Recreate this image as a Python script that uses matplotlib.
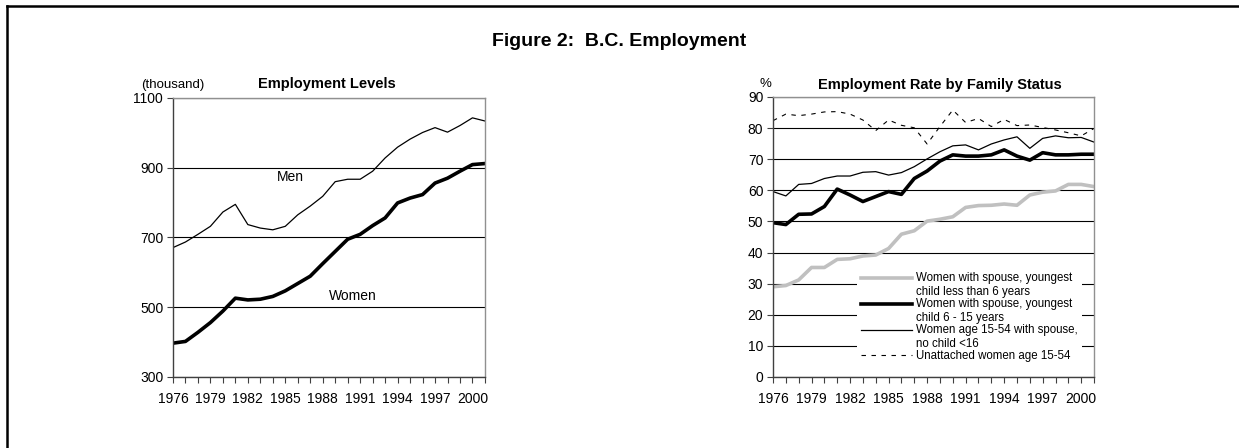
import numpy as np
from matplotlib import pyplot as plt
from matplotlib.lines import Line2D
from matplotlib.legend_handler import HandlerLine2D

plt.rcParams['font.family'] = ['Liberation Sans', 'DejaVu Sans']

years = list(range(1976, 2002))
year_labels = [str(y) if (y - 1976) % 3 == 0 else '' for y in years]

# employment levels (thousand)
men = [671, 687, 709, 732, 773, 795, 737, 727, 722, 732, 765, 790, 818,
       860, 867, 867, 890, 928, 959, 982, 1001, 1015, 1002, 1021, 1043, 1034]
women = [397, 402, 428, 456, 489, 526, 521, 523, 531, 547, 568, 589, 625,
         660, 695, 709, 734, 756, 799, 813, 823, 856, 870, 890, 909, 912]

# employment rate by family status (%)
lt6 = [29.0, 29.4, 31.2, 35.2, 35.2, 37.8, 38.0, 38.9, 39.2, 41.3, 45.9, 47.0, 50.1,
       50.7, 51.5, 54.5, 55.1, 55.2, 55.6, 55.2, 58.5, 59.4, 59.8, 61.9, 61.9, 61.2]
c6_15 = [49.6, 49.0, 52.3, 52.4, 54.8, 60.4, 58.5, 56.4, 58.0, 59.6, 58.7, 63.8, 66.2,
         69.4, 71.4, 71.0, 71.0, 71.4, 73.0, 71.0, 69.7, 72.1, 71.4, 71.4, 71.6, 71.6]
nochild = [59.6, 58.2, 61.9, 62.2, 63.8, 64.6, 64.6, 65.8, 66.0, 64.9, 65.7, 67.6, 70.1,
           72.4, 74.3, 74.6, 73.0, 74.9, 76.2, 77.2, 73.5, 76.7, 77.5, 76.9, 77.0, 75.5]
unattached = [82.4, 84.5, 84.0, 84.5, 85.2, 85.3, 84.5, 82.6, 79.2, 82.6, 80.9, 80.1, 74.9,
              80.5, 85.8, 81.8, 83.1, 80.5, 82.8, 80.8, 81.0, 80.2, 79.4, 78.5, 77.5, 79.9]

labels_r = ['Women with spouse, youngest\nchild less than 6 years',
            'Women with spouse, youngest\nchild 6 - 15 years',
            'Women age 15-54 with spouse,\nno child <16',
            'Unattached women age 15-54']


class TopLine(HandlerLine2D):
    """ put the legend line next to the first text row """
    def __init__(self, shift, **kw):
        super().__init__(**kw)
        self.shift = shift

    def create_artists(self, legend, orig_handle, xdescent, ydescent, width, height, fontsize, trans):
        arts = super().create_artists(legend, orig_handle, xdescent, ydescent,
                                      width, height, fontsize, trans)
        for a in arts:
            a.set_ydata(np.asarray(a.get_ydata()) + self.shift * fontsize)
        return arts


def style_axes(ax):
    ax.set_xlim(1976, 2001)
    ax.set_xticks(years)
    ax.set_xticklabels(year_labels)
    ax.tick_params(axis='both', direction='out', length=4, width=0.8, labelsize=10,
                   color='#404040')
    ax.tick_params(axis='x', pad=7)
    ax.tick_params(axis='y', pad=3)
    ax.spines['left'].set_color('#404040')
    ax.spines['bottom'].set_color('#404040')
    ax.spines['top'].set_color('#909090')
    ax.spines['right'].set_color('#909090')
    for s in ax.spines.values():
        s.set_linewidth(1.0)
    ax.yaxis.grid(True, color='black', lw=0.8)
    ax.set_axisbelow(True)


fig = plt.figure(figsize=(12.39, 4.48), dpi=100)

# frame of the figure (top and left only)
fig.add_artist(Line2D([0.0056, 1.0], [0.9855, 0.9855], color='black', lw=1.8,
                      transform=fig.transFigure))
fig.add_artist(Line2D([0.0056, 0.0056], [0.0, 0.9855], color='black', lw=1.8,
                      transform=fig.transFigure))

fig.text(0.5, 0.908, 'Figure 2:  B.C. Employment', ha='center', va='center',
         fontsize=14, fontweight='bold')

# left panel
ax1 = fig.add_axes([0.1396, 0.1585, 0.2518, 0.6228])
style_axes(ax1)
ax1.set_ylim(300, 1100)
ax1.set_yticks([300, 500, 700, 900, 1100])
ax1.plot(years, men, color='black', lw=0.9)
ax1.plot(years, women, color='black', lw=2.6)
ax1.text(1985.4, 874, 'Men', ha='center', va='center', fontsize=10)
ax1.text(1990.4, 531, 'Women', ha='center', va='center', fontsize=10)
ax1.text(0.0, 1.036, '(thousand)', transform=ax1.transAxes, ha='center',
         va='baseline', fontsize=9.5)
ax1.text(0.494, 1.036, 'Employment Levels', transform=ax1.transAxes, ha='center',
         va='baseline', fontsize=10.5, fontweight='bold')

# right panel
ax2 = fig.add_axes([0.6239, 0.1585, 0.2591, 0.625])
style_axes(ax2)
ax2.set_ylim(0, 90)
ax2.set_yticks(range(0, 91, 10))
l1, = ax2.plot(years, lt6, color='#c0c0c0', lw=2.6, label=labels_r[0])
l2, = ax2.plot(years, c6_15, color='black', lw=2.6, label=labels_r[1])
l3, = ax2.plot(years, nochild, color='black', lw=0.9, label=labels_r[2])
l4, = ax2.plot(years, unattached, color='black', lw=0.8, linestyle=(0, (4, 5)),
               label=labels_r[3])
ax2.text(-0.025, 1.036, '%', transform=ax2.transAxes, ha='center', va='baseline',
         fontsize=9.5)
ax2.text(0.519, 1.03, 'Employment Rate by Family Status', transform=ax2.transAxes,
         ha='center', va='baseline', fontsize=10.5, fontweight='bold')

leg = ax2.legend(handles=[l1, l2, l3, l4], loc='lower left',
                 bbox_to_anchor=(0.262, 0.038), borderaxespad=0, borderpad=0.35,
                 fontsize=8.3, frameon=True, fancybox=False, framealpha=1,
                 edgecolor='none', handlelength=4.4, handletextpad=0.35,
                 labelspacing=0.05,
                 handler_map={l1: TopLine(0.62), l2: TopLine(0.62), l3: TopLine(0.62)})
for t in leg.get_texts():
    t.set_linespacing(1.17)

fig.savefig('out.png', dpi=100)
